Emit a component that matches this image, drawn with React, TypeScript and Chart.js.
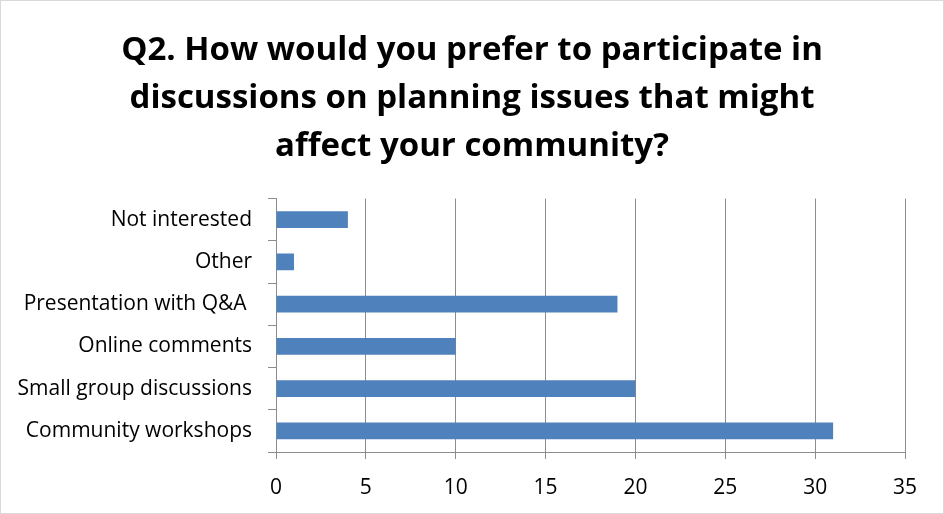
import React, { useEffect, useRef } from "react";
import { Chart, registerables } from "chart.js";

Chart.register(...registerables);

const titleLines = [
  "Q2. How would you prefer to participate in",
  "discussions on planning issues that might",
  "affect your community?",
];
const categories = [
  "Not interested",
  "Other",
  "Presentation with Q&A ",
  "Online comments",
  "Small group discussions",
  "Community workshops",
];
const responses = [4, 1, 19, 10, 20, 31];
const xMin = 0;
const xMax = 35;
const xStep = 5;

const FONT = "'Open Sans', 'Liberation Sans', sans-serif";

const frame = {
  id: "frame",
  beforeDraw(chart: any) {
    const { ctx, width, height } = chart;
    ctx.save();
    ctx.fillStyle = "#ffffff";
    ctx.fillRect(0, 0, width, height);
    ctx.restore();
  },
  afterDraw(chart: any) {
    const { ctx, width, height } = chart;
    ctx.save();
    ctx.strokeStyle = "#d9d9d9";
    ctx.lineWidth = 1;
    ctx.strokeRect(0.5, 0.5, width - 1, height - 1);
    ctx.restore();
  },
};

export default function App() {
  const ref = useRef<HTMLCanvasElement>(null);
  useEffect(() => {
    document.body.style.margin = "0";
    const chart = new Chart(ref.current!, {
      type: "bar",
      data: {
        labels: categories,
        datasets: [
          {
            data: responses,
            backgroundColor: "#4f81bd",
            barPercentage: 0.4,
            categoryPercentage: 1,
          },
        ],
      },
      options: {
        indexAxis: "y",
        animation: false,
        responsive: false,
        devicePixelRatio: 1,
        layout: { padding: 0 },
        plugins: {
          legend: { display: false },
          tooltip: { enabled: false },
          title: {
            display: true,
            text: titleLines,
            color: "#000000",
            font: { family: FONT, size: 33, weight: "bold", lineHeight: 1.45 },
            padding: { top: 27, bottom: 28 },
          },
        },
        scales: {
          x: {
            min: xMin,
            max: xMax,
            ticks: {
              stepSize: xStep,
              color: "#000000",
              font: { family: FONT, size: 21 },
              padding: 16,
              maxRotation: 0,
            },
            grid: {
              color: "#8c8c8c",
              tickLength: 7,
              drawTicks: true,
            },
            border: { display: true, color: "#8c8c8c" },
            afterFit(scale: any) {
              scale.height = 514 - 452;
            },
          },
          y: {
            ticks: {
              color: "#000000",
              font: { family: FONT, size: 21 },
              padding: 16,
            },
            grid: {
              drawOnChartArea: false,
              drawTicks: true,
              tickLength: 8,
              color: "#8c8c8c",
              offset: true,
            },
            border: { display: true, color: "#8c8c8c" },
            afterFit(scale: any) {
              scale.width = 276;
            },
          },
          spacer: {
            type: "linear",
            position: "right",
            display: true,
            ticks: { display: false },
            grid: { display: false, drawTicks: false },
            border: { display: false },
            afterFit(scale: any) {
              scale.width = 39;
            },
          },
        },
      },
      plugins: [frame],
    });
    return () => chart.destroy();
  }, []);
  return <canvas ref={ref} width={944} height={514} style={{ display: "block" }} />;
}
